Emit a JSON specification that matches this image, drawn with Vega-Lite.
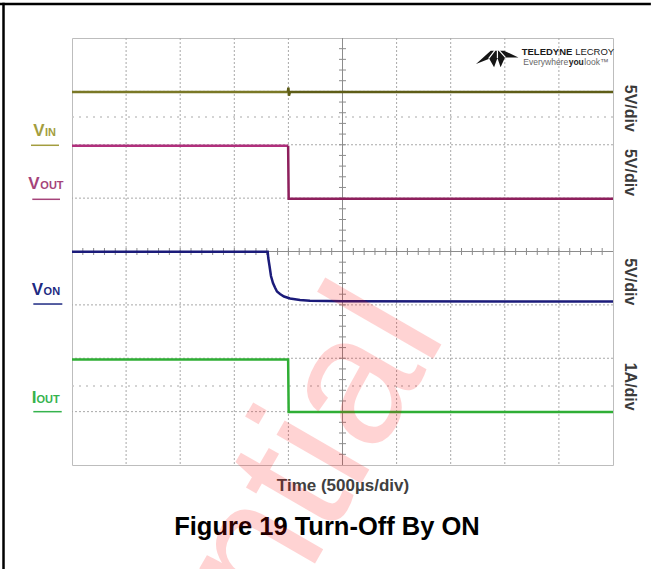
{
 "$schema": "https://vega.github.io/schema/vega-lite/v6.json",
 "width": 541,
 "height": 427,
 "autosize": {"type": "none"},
 "padding": {"left": 72, "top": 38, "right": 38, "bottom": 104},
 "background": "white",
 "config": {"font": "Liberation Sans", "view": {"stroke": "#bdbdbd", "strokeWidth": 1}},
 "datasets": {
  "grid_v": [{"x": 1}, {"x": 2}, {"x": 3}, {"x": 4}, {"x": 6}, {"x": 7}, {"x": 8}, {"x": 9}],
  "grid_h": [{"y": 1}, {"y": 2}, {"y": 3}, {"y": 5}, {"y": 6}, {"y": 7}],
  "ghost": [{"y": 6.52}, {"y": 1.48}],
  "center_v": [{"x": 5}],
  "center_h": [{"y": 4}],
  "ticks_h": [
   {"x": 0.2, "y": 4}, {"x": 0.4, "y": 4}, {"x": 0.6, "y": 4}, {"x": 0.8, "y": 4}, {"x": 1, "y": 4},
   {"x": 1.2, "y": 4}, {"x": 1.4, "y": 4}, {"x": 1.6, "y": 4}, {"x": 1.8, "y": 4}, {"x": 2, "y": 4},
   {"x": 2.2, "y": 4}, {"x": 2.4, "y": 4}, {"x": 2.6, "y": 4}, {"x": 2.8, "y": 4}, {"x": 3, "y": 4},
   {"x": 3.2, "y": 4}, {"x": 3.4, "y": 4}, {"x": 3.6, "y": 4}, {"x": 3.8, "y": 4}, {"x": 4, "y": 4},
   {"x": 4.2, "y": 4}, {"x": 4.4, "y": 4}, {"x": 4.6, "y": 4}, {"x": 4.8, "y": 4}, {"x": 5, "y": 4},
   {"x": 5.2, "y": 4}, {"x": 5.4, "y": 4}, {"x": 5.6, "y": 4}, {"x": 5.8, "y": 4}, {"x": 6, "y": 4},
   {"x": 6.2, "y": 4}, {"x": 6.4, "y": 4}, {"x": 6.6, "y": 4}, {"x": 6.8, "y": 4}, {"x": 7, "y": 4},
   {"x": 7.2, "y": 4}, {"x": 7.4, "y": 4}, {"x": 7.6, "y": 4}, {"x": 7.8, "y": 4}, {"x": 8, "y": 4},
   {"x": 8.2, "y": 4}, {"x": 8.4, "y": 4}, {"x": 8.6, "y": 4}, {"x": 8.8, "y": 4}, {"x": 9, "y": 4},
   {"x": 9.2, "y": 4}, {"x": 9.4, "y": 4}, {"x": 9.6, "y": 4}, {"x": 9.8, "y": 4}
  ],
  "ticks_v": [
   {"x": 5, "y": 0.2}, {"x": 5, "y": 0.4}, {"x": 5, "y": 0.6}, {"x": 5, "y": 0.8}, {"x": 5, "y": 1},
   {"x": 5, "y": 1.2}, {"x": 5, "y": 1.4}, {"x": 5, "y": 1.6}, {"x": 5, "y": 1.8}, {"x": 5, "y": 2},
   {"x": 5, "y": 2.2}, {"x": 5, "y": 2.4}, {"x": 5, "y": 2.6}, {"x": 5, "y": 2.8}, {"x": 5, "y": 3},
   {"x": 5, "y": 3.2}, {"x": 5, "y": 3.4}, {"x": 5, "y": 3.6}, {"x": 5, "y": 3.8}, {"x": 5, "y": 4.2},
   {"x": 5, "y": 4.4}, {"x": 5, "y": 4.6}, {"x": 5, "y": 4.8}, {"x": 5, "y": 5}, {"x": 5, "y": 5.2},
   {"x": 5, "y": 5.4}, {"x": 5, "y": 5.6}, {"x": 5, "y": 5.8}, {"x": 5, "y": 6}, {"x": 5, "y": 6.2},
   {"x": 5, "y": 6.4}, {"x": 5, "y": 6.6}, {"x": 5, "y": 6.8}, {"x": 5, "y": 7}, {"x": 5, "y": 7.2},
   {"x": 5, "y": 7.4}, {"x": 5, "y": 7.6}, {"x": 5, "y": 7.8}
  ],
  "traces": [
   {"ch": "VINa", "x": 0, "y": 6.99}, {"ch": "VINa", "x": 3.99, "y": 6.99},
   {"ch": "VINb", "x": 3.99, "y": 6.99}, {"ch": "VINb", "x": 4.0, "y": 7.07}, {"ch": "VINb", "x": 4.01, "y": 6.92}, {"ch": "VINb", "x": 4.03, "y": 6.99}, {"ch": "VINb", "x": 10, "y": 6.99},
   {"ch": "VOUTa", "x": 0, "y": 5.98}, {"ch": "VOUTa", "x": 3.995, "y": 5.98},
   {"ch": "VOUTb", "x": 3.995, "y": 5.98}, {"ch": "VOUTb", "x": 4.005, "y": 4.99}, {"ch": "VOUTb", "x": 10, "y": 4.99},
   {"ch": "VON", "x": 0, "y": 3.995}, {"ch": "VON", "x": 3.617, "y": 3.995}, {"ch": "VON", "x": 3.628, "y": 3.878}, {"ch": "VON", "x": 3.651, "y": 3.728}, {"ch": "VON", "x": 3.678, "y": 3.541}, {"ch": "VON", "x": 3.715, "y": 3.41}, {"ch": "VON", "x": 3.752, "y": 3.326}, {"ch": "VON", "x": 3.789, "y": 3.251}, {"ch": "VON", "x": 3.845, "y": 3.204}, {"ch": "VON", "x": 3.919, "y": 3.157}, {"ch": "VON", "x": 4.03, "y": 3.119}, {"ch": "VON", "x": 4.214, "y": 3.091}, {"ch": "VON", "x": 4.399, "y": 3.078}, {"ch": "VON", "x": 5.009, "y": 3.067}, {"ch": "VON", "x": 10, "y": 3.063},
   {"ch": "IOUT", "x": 0, "y": 1.975}, {"ch": "IOUT", "x": 3.995, "y": 1.975}, {"ch": "IOUT", "x": 4.005, "y": 0.995}, {"ch": "IOUT", "x": 10, "y": 0.995}
  ],
  "underlines": [
   {"ch": "lVIN", "x": -0.758, "x2": -0.24, "y": 5.99},
   {"ch": "lVOUT", "x": -0.734, "x2": -0.222, "y": 4.978},
   {"ch": "lVON", "x": -0.715, "x2": -0.179, "y": 3.016},
   {"ch": "lIOUT", "x": -0.715, "x2": -0.19, "y": 0.999}
  ],
  "lab_main": [
   {"ch": "lVIN", "x": -0.715, "y": 6.155, "t": "V"},
   {"ch": "lVOUT", "x": -0.808, "y": 5.175, "t": "V"},
   {"ch": "lVON", "x": -0.745, "y": 3.194, "t": "V"},
   {"ch": "lIOUT", "x": -0.745, "y": 1.165, "t": "I"}
  ],
  "lab_sub": [
   {"ch": "lVIN", "x": -0.5, "y": 6.155, "t": "IN"},
   {"ch": "lVOUT", "x": -0.585, "y": 5.175, "t": "OUT"},
   {"ch": "lVON", "x": -0.525, "y": 3.194, "t": "ON"},
   {"ch": "lIOUT", "x": -0.655, "y": 1.165, "t": "OUT"}
  ],
  "scales": [
   {"x": 10.314, "y": 6.683, "t": "5V/div"},
   {"x": 10.314, "y": 5.48, "t": "5V/div"},
   {"x": 10.314, "y": 3.434, "t": "5V/div"},
   {"x": 10.314, "y": 1.467, "t": "1A/div"}
  ],
  "xtitle": [{"x": 5.009, "y": -0.496, "t": "Time (500µs/div)"}],
  "caption": [{"x": 4.713, "y": -1.311, "t": "Figure 19 Turn-Off By ON"}],
  "logo_b10": [{"x": 8.313, "y": 7.676, "t": "TELEDYNE"}],
  "logo_r10": [{"x": 9.3, "y": 7.676, "t": "LECROY"}],
  "logo_r9": [{"x": 8.342, "y": 7.489, "t": "Everywhere"}, {"x": 9.47, "y": 7.489, "t": "look™"}],
  "logo_b9": [{"x": 9.181, "y": 7.489, "t": "you"}],
  "logo_mark": [{"x": 7.856, "y": 7.625}],
  "watermark": [{"x": 6.941, "y": 2.454, "t": "Confidential"}],
  "border_top": [{"x": -1.331, "x2": 10.7, "y": 8.637}],
  "border_left": [{"x": -1.266, "y": 8.66, "y2": -1.95}]
 },
 "layer": [
  {"data": {"name": "grid_v"}, "mark": {"type": "rule", "stroke": "#a8a8a8", "strokeDash": [2, 2], "strokeWidth": 1},
   "encoding": {"x": {"field": "x", "type": "quantitative", "scale": {"domain": [0, 10], "nice": false, "zero": false}, "axis": null}}},
  {"data": {"name": "grid_h"}, "mark": {"type": "rule", "stroke": "#a8a8a8", "strokeDash": [2, 2], "strokeWidth": 1},
   "encoding": {"y": {"field": "y", "type": "quantitative", "scale": {"domain": [0, 8], "nice": false, "zero": false}, "axis": null}}},
  {"data": {"name": "ghost"}, "mark": {"type": "rule", "stroke": "#c6c6c6", "strokeDash": [2, 5], "strokeWidth": 1.5},
   "encoding": {"y": {"field": "y", "type": "quantitative", "scale": {"domain": [0, 8], "nice": false, "zero": false}, "axis": null}}},
  {"data": {"name": "center_v"}, "mark": {"type": "rule", "stroke": "#8c8c8c", "strokeWidth": 1},
   "encoding": {"x": {"field": "x", "type": "quantitative", "scale": {"domain": [0, 10], "nice": false, "zero": false}, "axis": null}}},
  {"data": {"name": "center_h"}, "mark": {"type": "rule", "stroke": "#8c8c8c", "strokeWidth": 1},
   "encoding": {"y": {"field": "y", "type": "quantitative", "scale": {"domain": [0, 8], "nice": false, "zero": false}, "axis": null}}},
  {"data": {"name": "ticks_h"}, "mark": {"type": "tick", "orient": "vertical", "size": 7, "thickness": 1, "color": "#8c8c8c", "opacity": 1},
   "encoding": {
    "x": {"field": "x", "type": "quantitative", "scale": {"domain": [0, 10], "nice": false, "zero": false}, "axis": null},
    "y": {"field": "y", "type": "quantitative", "scale": {"domain": [0, 8], "nice": false, "zero": false}, "axis": null}
   }},
  {"data": {"name": "ticks_v"}, "mark": {"type": "tick", "orient": "horizontal", "size": 7, "thickness": 1, "color": "#8c8c8c", "opacity": 1},
   "encoding": {
    "x": {"field": "x", "type": "quantitative", "scale": {"domain": [0, 10], "nice": false, "zero": false}, "axis": null},
    "y": {"field": "y", "type": "quantitative", "scale": {"domain": [0, 8], "nice": false, "zero": false}, "axis": null}
   }},
  {"data": {"name": "traces"}, "mark": {"type": "line", "strokeWidth": 2.5},
   "encoding": {
    "x": {"field": "x", "type": "quantitative", "scale": {"domain": [0, 10], "nice": false, "zero": false}, "axis": null},
    "y": {"field": "y", "type": "quantitative", "scale": {"domain": [0, 8], "nice": false, "zero": false}, "axis": null},
    "color": {"field": "ch", "type": "nominal", "legend": null,
              "scale": {"domain": ["VINa", "VINb", "VOUTa", "VOUTb", "VON", "IOUT", "lVIN", "lVOUT", "lVON", "lIOUT"],
                        "range": ["#7a7826", "#5e5d17", "#b02f7c", "#8d1f5c", "#1b1b7a", "#2fae35", "#a39d3e", "#a5437a", "#1e2a82", "#35b34d"]}}
   }},
  {"data": {"name": "underlines"}, "mark": {"type": "rule", "strokeWidth": 1.5},
   "encoding": {
    "x": {"field": "x", "type": "quantitative", "scale": {"domain": [0, 10], "nice": false, "zero": false}, "axis": null},
    "x2": {"field": "x2"},
    "y": {"field": "y", "type": "quantitative", "scale": {"domain": [0, 8], "nice": false, "zero": false}, "axis": null},
    "color": {"field": "ch", "type": "nominal", "legend": null,
              "scale": {"domain": ["VINa", "VINb", "VOUTa", "VOUTb", "VON", "IOUT", "lVIN", "lVOUT", "lVON", "lIOUT"],
                        "range": ["#7a7826", "#5e5d17", "#b02f7c", "#8d1f5c", "#1b1b7a", "#2fae35", "#a39d3e", "#a5437a", "#1e2a82", "#35b34d"]}}
   }},
  {"data": {"name": "lab_main"}, "mark": {"type": "text", "fontSize": 17, "fontWeight": "bold", "align": "left", "baseline": "alphabetic"},
   "encoding": {
    "x": {"field": "x", "type": "quantitative", "scale": {"domain": [0, 10], "nice": false, "zero": false}, "axis": null},
    "y": {"field": "y", "type": "quantitative", "scale": {"domain": [0, 8], "nice": false, "zero": false}, "axis": null},
    "text": {"field": "t"},
    "color": {"field": "ch", "type": "nominal", "legend": null,
              "scale": {"domain": ["VINa", "VINb", "VOUTa", "VOUTb", "VON", "IOUT", "lVIN", "lVOUT", "lVON", "lIOUT"],
                        "range": ["#7a7826", "#5e5d17", "#b02f7c", "#8d1f5c", "#1b1b7a", "#2fae35", "#a39d3e", "#a5437a", "#1e2a82", "#35b34d"]}}
   }},
  {"data": {"name": "lab_sub"}, "mark": {"type": "text", "fontSize": 11, "fontWeight": "bold", "align": "left", "baseline": "alphabetic"},
   "encoding": {
    "x": {"field": "x", "type": "quantitative", "scale": {"domain": [0, 10], "nice": false, "zero": false}, "axis": null},
    "y": {"field": "y", "type": "quantitative", "scale": {"domain": [0, 8], "nice": false, "zero": false}, "axis": null},
    "text": {"field": "t"},
    "color": {"field": "ch", "type": "nominal", "legend": null,
              "scale": {"domain": ["VINa", "VINb", "VOUTa", "VOUTb", "VON", "IOUT", "lVIN", "lVOUT", "lVON", "lIOUT"],
                        "range": ["#7a7826", "#5e5d17", "#b02f7c", "#8d1f5c", "#1b1b7a", "#2fae35", "#a39d3e", "#a5437a", "#1e2a82", "#35b34d"]}}
   }},
  {"data": {"name": "scales"}, "mark": {"type": "text", "fontSize": 16, "fontWeight": "bold", "angle": 90, "align": "center", "baseline": "middle", "fill": "#3a3a3a"},
   "encoding": {
    "x": {"field": "x", "type": "quantitative", "scale": {"domain": [0, 10], "nice": false, "zero": false}, "axis": null},
    "y": {"field": "y", "type": "quantitative", "scale": {"domain": [0, 8], "nice": false, "zero": false}, "axis": null},
    "text": {"field": "t"}
   }},
  {"data": {"name": "xtitle"}, "mark": {"type": "text", "fontSize": 17, "fontWeight": "bold", "align": "center", "baseline": "alphabetic", "fill": "#404040"},
   "encoding": {
    "x": {"field": "x", "type": "quantitative", "scale": {"domain": [0, 10], "nice": false, "zero": false}, "axis": null},
    "y": {"field": "y", "type": "quantitative", "scale": {"domain": [0, 8], "nice": false, "zero": false}, "axis": null},
    "text": {"field": "t"}
   }},
  {"data": {"name": "caption"}, "mark": {"type": "text", "fontSize": 25.5, "fontWeight": "bold", "align": "center", "baseline": "alphabetic", "fill": "#000000"},
   "encoding": {
    "x": {"field": "x", "type": "quantitative", "scale": {"domain": [0, 10], "nice": false, "zero": false}, "axis": null},
    "y": {"field": "y", "type": "quantitative", "scale": {"domain": [0, 8], "nice": false, "zero": false}, "axis": null},
    "text": {"field": "t"}
   }},
  {"data": {"name": "logo_b10"}, "mark": {"type": "text", "fontSize": 9.5, "fontWeight": "bold", "align": "left", "baseline": "alphabetic", "fill": "#1a1a1a"},
   "encoding": {
    "x": {"field": "x", "type": "quantitative", "scale": {"domain": [0, 10], "nice": false, "zero": false}, "axis": null},
    "y": {"field": "y", "type": "quantitative", "scale": {"domain": [0, 8], "nice": false, "zero": false}, "axis": null},
    "text": {"field": "t"}
   }},
  {"data": {"name": "logo_r10"}, "mark": {"type": "text", "fontSize": 9.5, "align": "left", "baseline": "alphabetic", "fill": "#1a1a1a"},
   "encoding": {
    "x": {"field": "x", "type": "quantitative", "scale": {"domain": [0, 10], "nice": false, "zero": false}, "axis": null},
    "y": {"field": "y", "type": "quantitative", "scale": {"domain": [0, 8], "nice": false, "zero": false}, "axis": null},
    "text": {"field": "t"}
   }},
  {"data": {"name": "logo_r9"}, "mark": {"type": "text", "fontSize": 8.5, "align": "left", "baseline": "alphabetic", "fill": "#666666"},
   "encoding": {
    "x": {"field": "x", "type": "quantitative", "scale": {"domain": [0, 10], "nice": false, "zero": false}, "axis": null},
    "y": {"field": "y", "type": "quantitative", "scale": {"domain": [0, 8], "nice": false, "zero": false}, "axis": null},
    "text": {"field": "t"}
   }},
  {"data": {"name": "logo_b9"}, "mark": {"type": "text", "fontSize": 8.5, "fontWeight": "bold", "align": "left", "baseline": "alphabetic", "fill": "#222222"},
   "encoding": {
    "x": {"field": "x", "type": "quantitative", "scale": {"domain": [0, 10], "nice": false, "zero": false}, "axis": null},
    "y": {"field": "y", "type": "quantitative", "scale": {"domain": [0, 8], "nice": false, "zero": false}, "axis": null},
    "text": {"field": "t"}
   }},
  {"data": {"name": "logo_mark"}, "mark": {"type": "point", "filled": true, "fill": "#151515", "opacity": 1, "strokeWidth": 0, "size": 1764,
    "shape": "M-1,0.29L-0.3,-0.35L0.33,-0.35L1.02,-0.03L0.38,-0.03L0.17,0.44L0.02,0L-0.14,0.44L-0.37,0.03Z"},
   "encoding": {
    "x": {"field": "x", "type": "quantitative", "scale": {"domain": [0, 10], "nice": false, "zero": false}, "axis": null},
    "y": {"field": "y", "type": "quantitative", "scale": {"domain": [0, 8], "nice": false, "zero": false}, "axis": null}
   }},
  {"data": {"name": "logo_mark"}, "mark": {"type": "point", "filled": false, "stroke": "#ffffff", "opacity": 1, "strokeWidth": 1.2, "size": 1764,
    "shape": "M-0.4,0.03L-0.1,-0.36 M0.4,-0.03L0.1,-0.36 M0.02,0L0.02,-0.36"},
   "encoding": {
    "x": {"field": "x", "type": "quantitative", "scale": {"domain": [0, 10], "nice": false, "zero": false}, "axis": null},
    "y": {"field": "y", "type": "quantitative", "scale": {"domain": [0, 8], "nice": false, "zero": false}, "axis": null}
   }},
  {"data": {"name": "border_top"}, "mark": {"type": "rule", "stroke": "#000000", "strokeWidth": 2.5},
   "encoding": {
    "x": {"field": "x", "type": "quantitative", "scale": {"domain": [0, 10], "nice": false, "zero": false}, "axis": null},
    "x2": {"field": "x2"},
    "y": {"field": "y", "type": "quantitative", "scale": {"domain": [0, 8], "nice": false, "zero": false}, "axis": null}
   }},
  {"data": {"name": "border_left"}, "mark": {"type": "rule", "stroke": "#000000", "strokeWidth": 2.5},
   "encoding": {
    "x": {"field": "x", "type": "quantitative", "scale": {"domain": [0, 10], "nice": false, "zero": false}, "axis": null},
    "y": {"field": "y", "type": "quantitative", "scale": {"domain": [0, 8], "nice": false, "zero": false}, "axis": null},
    "y2": {"field": "y2"}
   }},
  {"data": {"name": "watermark"}, "mark": {"type": "text", "fontSize": 185, "angle": -60, "align": "right", "baseline": "alphabetic", "fill": "#ff0000", "opacity": 0.17},
   "encoding": {
    "x": {"field": "x", "type": "quantitative", "scale": {"domain": [0, 10], "nice": false, "zero": false}, "axis": null},
    "y": {"field": "y", "type": "quantitative", "scale": {"domain": [0, 8], "nice": false, "zero": false}, "axis": null},
    "text": {"field": "t"}
   }}
 ]
}
